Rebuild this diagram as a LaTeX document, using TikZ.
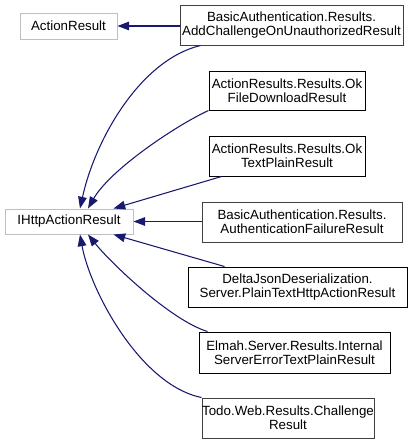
\documentclass[tikz,border=0pt]{standalone}
\usepackage{fontspec}
\setmainfont{Liberation Sans}
\usetikzlibrary{arrows.meta, calc}
\definecolor{edgeblue}{HTML}{191970}
\definecolor{extgray}{HTML}{BFBFBF}
\definecolor{docgray}{HTML}{404040}
\begin{document}
\begin{tikzpicture}[x=0.75pt, y=-0.75pt, font=\fontsize{10}{10.5}\selectfont,
  cls/.style={draw, fill=white, align=center, inner sep=0pt, line width=0.75pt},
  sz/.style 2 args={minimum width=#1*0.75pt, minimum height=#2*0.75pt},
  extcls/.style={cls, draw=extgray},
  doccls/.style={cls, draw=black},
  darkcls/.style={cls, draw=docgray},
  inherit/.style={draw=edgeblue, line width=0.8pt,
    {Triangle[length=8.8pt, width=6.5pt, fill=edgeblue]}-}]
\useasboundingbox (0,0) rectangle (420,444);

% base classes (left column)
\node[extcls, sz={97}{26}] (ar) at (68.5,26) {ActionResult};
\node[extcls, sz={128}{25}] (ih) at (69,221.5) {IHttpActionResult};

% derived classes (right column)
\node[darkcls, sz={223}{40}] (b1) at (291.5,25)
  {BasicAuthentication.Results.\\AddChallengeOnUnauthorizedResult};
\node[doccls, sz={156}{39}] (b2) at (287,90.5)
  {ActionResults.Results.Ok\\FileDownloadResult};
\node[doccls, sz={156}{40}] (b3) at (287,156)
  {ActionResults.Results.Ok\\TextPlainResult};
\node[darkcls, sz={200}{40}] (b4) at (302,222)
  {BasicAuthentication.Results.\\AuthenticationFailureResult};
\node[doccls, sz={219}{40}] (b5) at (297.5,287)
  {DeltaJsonDeserialization.\\Server.PlainTextHttpActionResult};
\node[doccls, sz={191}{41}] (b6) at (294.5,352.5)
  {Elmah.Server.Results.Internal\\ServerErrorTextPlainResult};
\node[darkcls, sz={172}{40}] (b7) at (288,418)
  {Todo.Web.Results.Challenge\\Result};

% inheritance edges
\draw[inherit] (ar.east) -- (ar.east -| b1.west);
\draw[inherit] ($(ih.north)+(11,0)$) .. controls (95,140) and (140,60)
  .. ($(b1.south west)+(21,0)$);
\draw[inherit] ($(ih.north)+(19,0)$) .. controls (110,170) and (175,126)
  .. (b2.south west);
\draw[inherit] ($(ih.north east)+(-20,0)$) -- ($(b3.south west)+(13,0)$);
\draw[inherit] (ih.east) -- (ih.east -| b4.west);
\draw[inherit] ($(ih.south east)+(-20,0)$) -- ($(b5.north west)+(37,0)$);
\draw[inherit] ($(ih.south)+(19,0)$) .. controls (110,262) and (170,320)
  .. ($(b6.north west)+(9,0)$);
\draw[inherit] ($(ih.south)+(11,0)$) .. controls (90,290) and (140,385)
  .. (b7.north west);
\end{tikzpicture}
\end{document}
